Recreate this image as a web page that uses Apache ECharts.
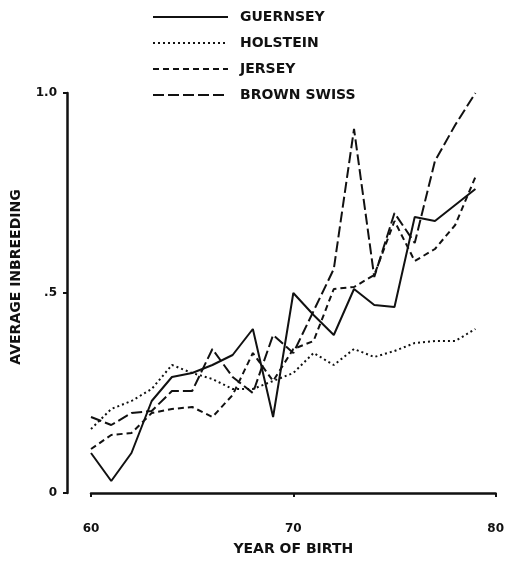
<!DOCTYPE html>
<html>
<head>
<meta charset="utf-8">
<script src="https://cdn.jsdelivr.net/npm/echarts@6/dist/echarts.min.js"></script>
<style>html,body{margin:0;padding:0;background:#fff}#c{width:507px;height:568px}</style>
</head>
<body>
<div id="c"></div>
<script>
var years = [60,61,62,63,64,65,66,67,68,69,70,71,72,73,74,75,76,77,78,79];
var guernsey   = [0.10,0.03,0.10,0.23,0.29,0.30,0.32,0.345,0.41,0.19,0.50,0.445,0.395,0.51,0.47,0.465,0.69,0.68,0.72,0.76];
var holstein   = [0.16,0.21,0.23,0.26,0.32,0.30,0.285,0.26,0.26,0.28,0.30,0.35,0.32,0.36,0.34,0.355,0.375,0.38,0.38,0.41];
var jersey     = [0.11,0.145,0.15,0.20,0.21,0.215,0.19,0.245,0.35,0.28,0.36,0.38,0.51,0.515,0.545,0.68,0.58,0.61,0.67,0.79];
var brownSwiss = [0.19,0.17,0.20,0.205,0.255,0.255,0.36,0.29,0.25,0.395,0.35,0.455,0.56,0.91,0.54,0.70,0.625,0.83,0.92,1.0];
var seriesNames = ['GUERNSEY','HOLSTEIN','JERSEY','BROWN SWISS'];
var yTickValues = [0, 0.5, 1.0];
var yTickLabels = ['0', '.5', '1.0'];

function pairs(v){ return years.map(function(y,i){ return [y, v[i]]; }); }

var chart = echarts.init(document.getElementById('c'), null, {renderer:'canvas'});
var font = 'DejaVu Sans';
var dashes = ['solid', [2,3], [6,4], [11,4]];
var datasets = [guernsey, holstein, jersey, brownSwiss];

chart.setOption({
  backgroundColor: '#fff',
  animation: false,
  grid: {left: 91, right: 11, top: 93, bottom: 75},
  legend: {
    orient: 'vertical', left: 147, top: 5,
    itemWidth: 75, itemHeight: 14, itemGap: 12,
    data: seriesNames,
    itemStyle: {color: 'rgba(0,0,0,0)', borderColor: 'rgba(0,0,0,0)', borderWidth: 0},
    textStyle: {fontFamily: font, fontWeight: 'bold', fontSize: 14, color: '#111', padding: [0,0,0,7]}
  },
  xAxis: {
    type: 'value', min: 60, max: 80, interval: 10, offset: 24,
    name: 'YEAR OF BIRTH', nameLocation: 'middle', nameGap: 25,
    nameTextStyle: {fontFamily: font, fontWeight: 'bold', fontSize: 14, color: '#111'},
    axisLine: {show: true, lineStyle: {color: '#111', width: 2.5}},
    axisTick: {show: true, length: 4, lineStyle: {color: '#111', width: 2}},
    axisLabel: {fontFamily: font, fontWeight: 'bold', fontSize: 12, color: '#111', margin: 6},
    splitLine: {show: false}
  },
  yAxis: {
    type: 'value', min: 0, max: 1, interval: 0.5, offset: 24,
    name: 'AVERAGE INBREEDING', nameLocation: 'middle', nameGap: 44, nameRotate: 90,
    nameTextStyle: {fontFamily: font, fontWeight: 'bold', fontSize: 14, color: '#111', padding: [0,0,0,32]},
    axisLine: {show: true, lineStyle: {color: '#111', width: 2.5}},
    axisTick: {show: true, length: 4, lineStyle: {color: '#111', width: 2}},
    axisLabel: {fontFamily: font, fontWeight: 'bold', fontSize: 12, color: '#111', margin: 10,
      formatter: function(v){ var i = yTickValues.indexOf(v); return i >= 0 ? yTickLabels[i] : ''; }},
    splitLine: {show: false}
  },
  series: seriesNames.map(function(n, i){
    return {
      name: n, type: 'line', data: pairs(datasets[i]),
      symbol: 'none', showSymbol: false,
      lineStyle: {color: '#111', width: 2, type: dashes[i]},
      itemStyle: {color: '#111'}
    };
  })
});
</script>
</body>
</html>
